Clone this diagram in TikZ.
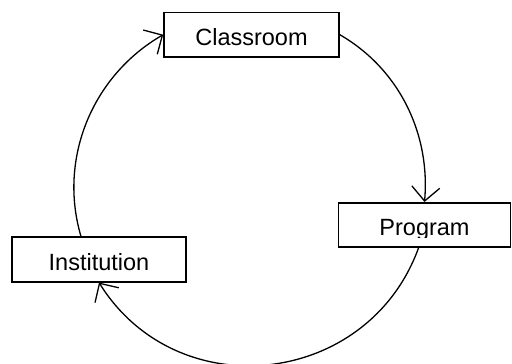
\documentclass[tikz,border=0pt]{standalone}
\usepackage{fontspec}
\setmainfont{Liberation Sans}
\usetikzlibrary{arrows.meta}
\tikzset{
  boxnode/.style={draw, line width=1.6pt, inner sep=0pt, text height=22pt, text depth=0pt,
    font=\fontsize{23.5}{28}\selectfont, minimum height=44.5pt},
  cyc/.style={line width=1.3pt, line cap=round,
    -{Straight Barb[length=14pt, width=28pt, line width=1.3pt]}},
}
\begin{document}
\begin{tikzpicture}[x=1pt, y=1pt]
\useasboundingbox (0,0) rectangle (512,364);
\node[boxnode, minimum width=175pt] (class) at (251.5,329.3) {Classroom};
\node[boxnode, minimum width=174pt] (inst) at (99,104.5) {Institution};
\node[boxnode, minimum width=172pt] (prog) at (424.5,139) {};
\begin{scope}
  \clip ([xshift=-1pt]prog.north west) rectangle ([xshift=1pt,yshift=11pt]prog.south east);
  \node[boxnode, draw=none, minimum width=172pt] (progtext) at (prog) {Program};
\end{scope}
\draw[cyc] (class.east) to[out=-30, in=85, distance=68.5pt] (prog.north);
\draw[cyc] ([xshift=-6pt]prog.south) to[out=-110, in=-58, distance=148pt] (inst.south);
\draw[cyc] ([xshift=-18pt]inst.north) to[out=106.5, in=210, distance=81.5pt] (class.west);
\end{tikzpicture}
\end{document}
